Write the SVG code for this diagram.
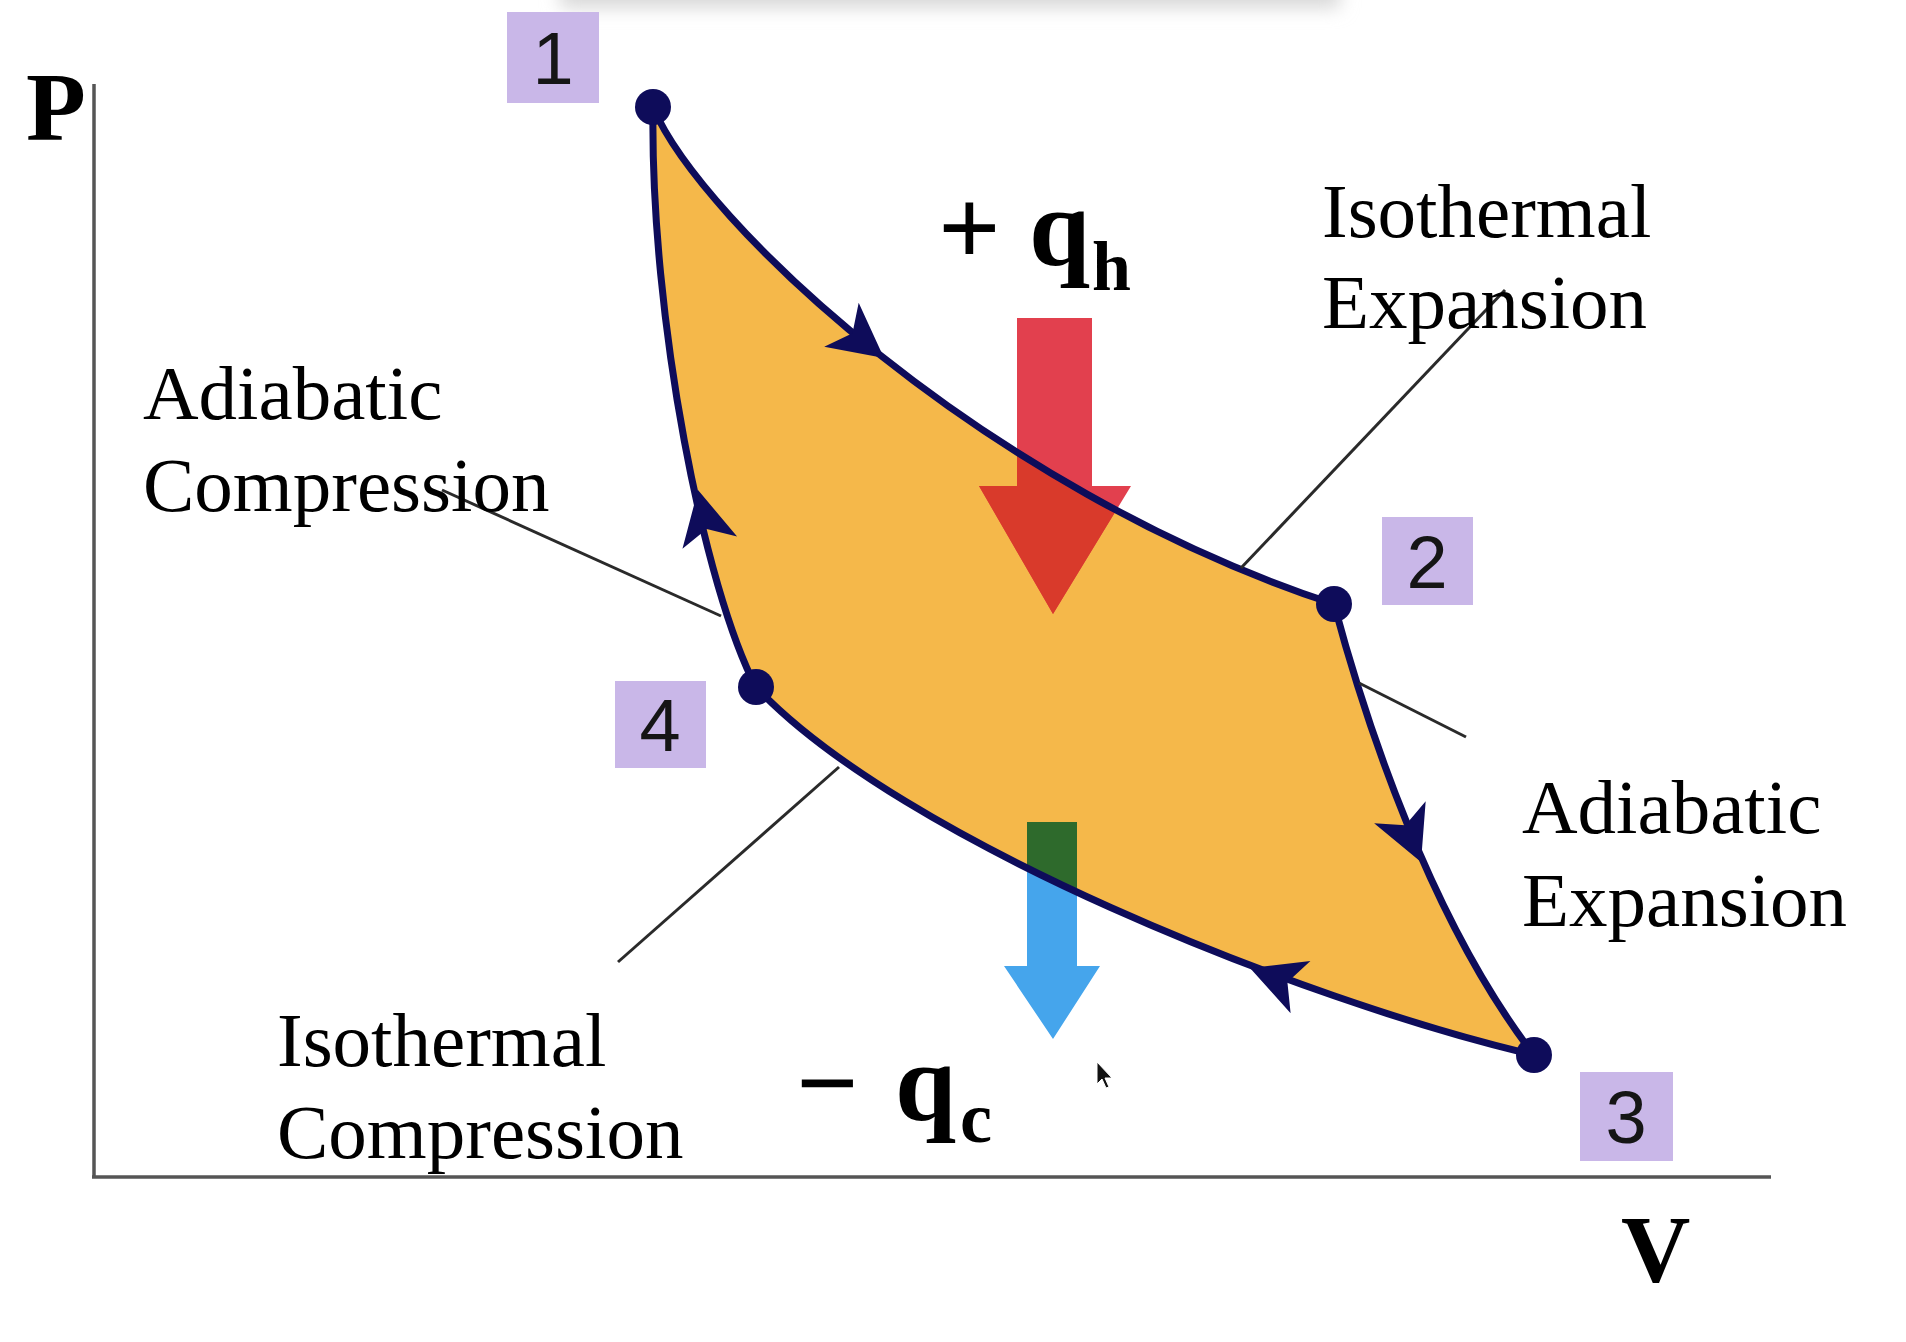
<svg xmlns="http://www.w3.org/2000/svg" width="1906" height="1342" viewBox="0 0 1906 1342">
<defs>
<style>
.lbl{font-family:"Liberation Serif","Times New Roman",serif;font-size:77px;fill:#000}
.ax{font-family:"Liberation Serif","Times New Roman",serif;font-weight:bold;fill:#000}
.num{font-family:"Liberation Sans",Arial,sans-serif;font-size:74px;fill:#151515;text-anchor:middle}
.box{fill:#C9B7E8}
.lead{stroke:#2a2a2a;stroke-width:3;fill:none}
.axis{stroke:#555;stroke-width:3.5;fill:none}
.dot{fill:#0E0C5A}
.ah{fill:#0E0C5A}
.edge{stroke:#0E0C5A;stroke-width:7;fill:none}
</style>
<path id="head" d="M0,0 L-54,-28 L-40,0 L-54,28 Z"/>
<clipPath id="cyc"><path d="M653,107 C700,220 985,490 1334,604 C1365,720 1430,920 1534,1055 C1300,1000 900,840 756,687 C705,590 650,320 653,107 Z"/></clipPath>
<filter id="blur" x="-20%" y="-200%" width="140%" height="500%"><feGaussianBlur stdDeviation="9"/></filter>
</defs>
<rect width="1906" height="1342" fill="#fff"/>
<rect x="560" y="-24" width="780" height="32" fill="#d8d8d8" filter="url(#blur)"/>

<g id="axes">
<line class="axis" x1="94" y1="84" x2="94" y2="1177"/>
<line class="axis" x1="92" y1="1177" x2="1771" y2="1177"/>
<text class="ax" x="26" y="140" font-size="98">P</text>
<text class="ax" x="1621" y="1282" font-size="96">V</text>
</g>

<g id="cycle">
<path d="M653,107 C700,220 985,490 1334,604 C1365,720 1430,920 1534,1055 C1300,1000 900,840 756,687 C705,590 650,320 653,107 Z" fill="#F5B84A"/>
</g>

<g id="heat-in">
<path d="M1017,318 H1092 V486 H1131 L1053,614 L979,486 H1017 Z" fill="#E2404E"/>
<path d="M1017,318 H1092 V486 H1131 L1053,614 L979,486 H1017 Z" fill="#D93A2B" clip-path="url(#cyc)"/>
</g>
<g id="heat-out">
<path d="M1027,822 H1077 V966 H1100 L1053,1039 L1004,966 H1027 Z" fill="#45A5EC"/>
<path d="M1027,822 H1077 V966 H1100 L1053,1039 L1004,966 H1027 Z" fill="#2E6A2C" clip-path="url(#cyc)"/>
</g>

<g id="connectors">
<path class="edge" d="M653,107 C700,220 985,490 1334,604"/>
<path class="edge" d="M1334,604 C1365,720 1430,920 1534,1055"/>
<path class="edge" d="M1534,1055 C1300,1000 900,840 756,687"/>
<path class="edge" d="M756,687 C705,590 650,320 653,107"/>
<use href="#head" class="ah" transform="translate(884,358) rotate(38)"/>
<use href="#head" class="ah" transform="translate(1421,862) rotate(67)"/>
<use href="#head" class="ah" transform="translate(1250,968) rotate(200.7)"/>
<use href="#head" class="ah" transform="translate(698,490) rotate(-102.6)"/>
<line class="lead" x1="1505" y1="290" x2="1241" y2="568"/>
<line class="lead" x1="442" y1="490" x2="721" y2="616"/>
<line class="lead" x1="1359" y1="683" x2="1466" y2="737"/>
<line class="lead" x1="618" y1="962" x2="839" y2="767"/>
</g>

<g id="state-1">
<circle class="dot" cx="653" cy="107" r="18"/>
<rect class="box" x="507" y="12" width="92" height="91"/>
<text class="num" x="553" y="84">1</text>
</g>
<g id="state-2">
<circle class="dot" cx="1334" cy="604" r="18"/>
<rect class="box" x="1382" y="517" width="91" height="88"/>
<text class="num" x="1427" y="588">2</text>
</g>
<g id="state-3">
<circle class="dot" cx="1534" cy="1055" r="18"/>
<rect class="box" x="1580" y="1072" width="93" height="89"/>
<text class="num" x="1626" y="1143">3</text>
</g>
<g id="state-4">
<circle class="dot" cx="756" cy="687" r="18"/>
<rect class="box" x="615" y="681" width="91" height="87"/>
<text class="num" x="660" y="751">4</text>
</g>

<g id="labels">
<text class="lbl" x="1322" y="237">Isothermal</text>
<text class="lbl" x="1322" y="328">Expansion</text>
<text class="lbl" x="143" y="419">Adiabatic</text>
<text class="lbl" x="143" y="511">Compression</text>
<text class="lbl" x="1522" y="833">Adiabatic</text>
<text class="lbl" x="1522" y="926">Expansion</text>
<text class="lbl" x="277" y="1066">Isothermal</text>
<text class="lbl" x="277" y="1158">Compression</text>
<text class="ax" x="938" y="265" font-size="110">+</text>
<text class="ax" x="1029" y="265" font-size="110">q</text>
<text class="ax" x="1092" y="290" font-size="70">h</text>
<text class="ax" x="796" y="1120" font-size="110">−</text>
<text class="ax" x="895" y="1120" font-size="110">q</text>
<text class="ax" x="960" y="1142" font-size="72">c</text>
</g>

<g id="cursor">
<path d="M1097,1062 L1097,1084 L1102,1079 L1106,1088 L1109,1087 L1105,1078 L1112,1078 Z" fill="#111" stroke="#fff" stroke-width="1"/>
</g>
</svg>
